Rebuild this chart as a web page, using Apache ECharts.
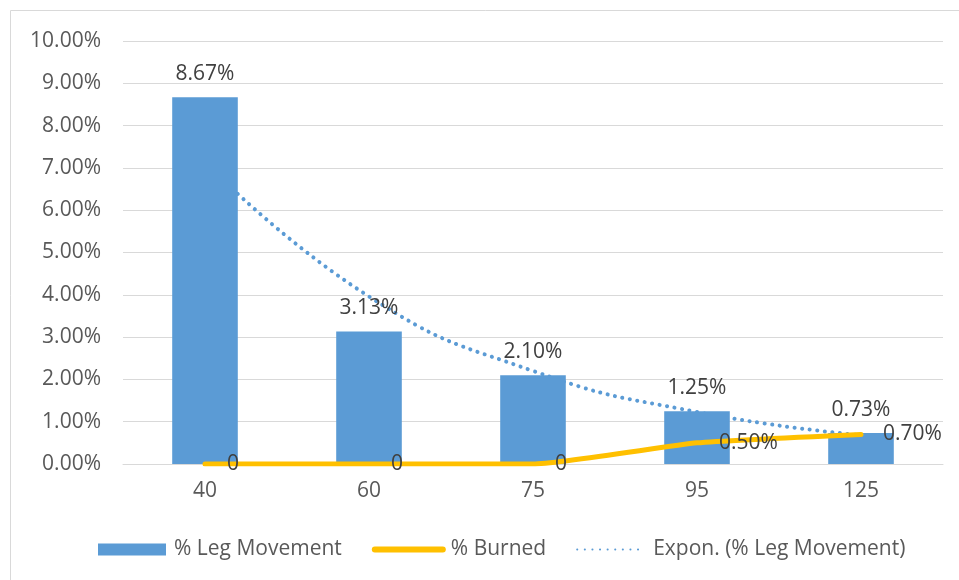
<!DOCTYPE html>
<html>
<head>
<meta charset="utf-8">
<script src="https://cdn.jsdelivr.net/npm/echarts@6/dist/echarts.min.js"></script>
<style>
  html, body { margin: 0; padding: 0; background: #fff; }
  #chart { width: 959px; height: 580px; }
</style>
</head>
<body>
<div id="chart"></div>
<script>
// categories on the x axis
const categories = ['40', '60', '75', '95', '125']
// % Leg Movement (bars), in percent
const legMovement = [8.67, 3.13, 2.10, 1.25, 0.73]
// % Burned (line), in percent
const burned = [0, 0, 0, 0.50, 0.70]
// Expon. trendline, in percent
const trend = [7.13, 3.96, 2.20, 1.23, 0.68]

const font = '"Open Sans", "Liberation Sans", sans-serif'

let myChart = echarts.init(document.getElementById('chart'))

let option = {
  animation: false,
  textStyle: { fontFamily: font },
  graphic: [
    {
      type: 'rect',
      shape: { x: 10.5, y: 10.5, width: 980, height: 600 },
      style: { fill: 'none', stroke: '#D9D9D9', lineWidth: 1 },
      silent: true
    }
  ],
  grid: {
    left: 123,
    right: 16,
    top: 41,
    bottom: 116
  },
  legend: {
    bottom: 15,
    left: 93,
    itemWidth: 68,
    itemHeight: 12,
    itemGap: 30,
    data: [
      { name: '% Leg Movement', icon: 'rect' },
      { name: '% Burned', itemStyle: { opacity: 0 }, lineStyle: { width: 6 } },
      { name: 'Expon. (% Leg Movement)', itemStyle: { opacity: 0 } }
    ],
    textStyle: { fontFamily: font, fontSize: 21, color: '#595959', padding: [0, 0, 0, 3] }
  },
  xAxis: {
    type: 'category',
    data: categories,
    axisTick: { show: false },
    axisLine: { lineStyle: { color: '#D9D9D9', width: 1 } },
    axisLabel: { fontFamily: font, fontSize: 21, color: '#595959', margin: 17 }
  },
  yAxis: {
    type: 'value',
    min: 0,
    max: 10,
    interval: 1,
    axisLine: { show: false },
    axisTick: { show: false },
    splitLine: { lineStyle: { color: '#D9D9D9', width: 1 } },
    axisLabel: {
      fontFamily: font,
      fontSize: 21,
      color: '#595959',
      margin: 22,
      formatter: (v) => v.toFixed(2) + '%'
    }
  },
  series: [
    {
      name: 'Expon. (% Leg Movement)',
      type: 'line',
      data: trend,
      z: 1,
      smooth: 0.5,
      symbol: 'none',
      lineStyle: { color: '#5B9BD5', width: 4, type: [0.1, 7.5], cap: 'round' },
      itemStyle: { color: '#5B9BD5' }
    },
    {
      name: '% Leg Movement',
      type: 'bar',
      data: legMovement,
      z: 2,
      barWidth: '40%',
      itemStyle: { color: '#5B9BD5' },
      label: {
        show: true,
        position: 'top',
        distance: 13,
        fontFamily: font,
        fontSize: 21,
        color: '#404040',
        formatter: (p) => p.value.toFixed(2) + '%'
      }
    },
    {
      name: '% Burned',
      type: 'line',
      data: burned,
      z: 3,
      smooth: 0.15,
      symbol: 'circle',
      symbolSize: 0.01,
      showSymbol: true,
      itemStyle: { color: '#FFC000' },
      lineStyle: { color: '#FFC000', width: 5, cap: 'round' },
      labelLayout: { hideOverlap: false },
      label: {
        show: true,
        position: 'right',
        distance: 22,
        offset: [0, 3],
        fontFamily: font,
        fontSize: 21,
        color: '#404040',
        formatter: (p) => p.value === 0 ? '0' : p.value.toFixed(2) + '%'
      }
    }
  ]
}

option && myChart.setOption(option)
window.addEventListener('resize', myChart.resize)
</script>
</body>
</html>
